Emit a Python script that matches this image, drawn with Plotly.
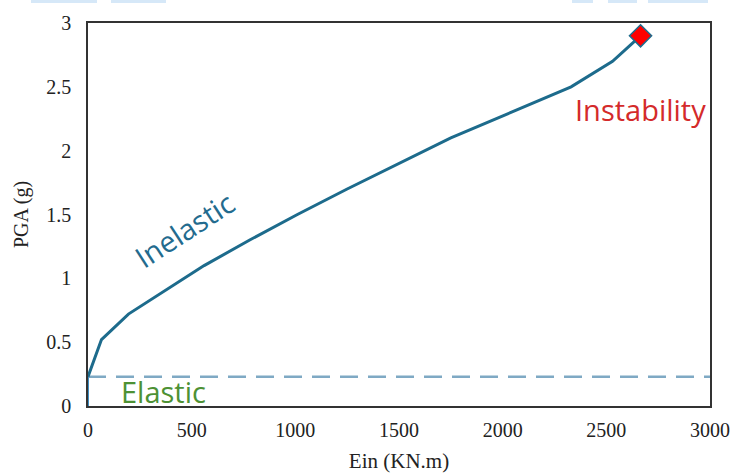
import plotly.graph_objects as go

# Data
ein = [0, 65, 195, 370, 560, 780, 1010, 1250, 1500, 1750, 2040, 2330, 2530, 2665]
pga = [0.23, 0.52, 0.72, 0.9, 1.1, 1.3, 1.5, 1.7, 1.9, 2.1, 2.3, 2.5, 2.7, 2.9]
elastic_ein = [0, 0]
elastic_pga = [0, 0.23]
limit_ein = [0, 3000]
limit_pga = [0.23, 0.23]
instab_ein = [2665]
instab_pga = [2.9]
x_ticks = [0, 500, 1000, 1500, 2000, 2500, 3000]
y_ticks = [0, 0.5, 1, 1.5, 2, 2.5, 3]
y_ticklabels = ["0", "0.5", "1", "1.5", "2", "2.5", "3"]

serif = "Liberation Serif, Times New Roman, serif"
sans = "Open Sans, Liberation Sans, sans-serif"

fig = go.Figure()
fig.add_trace(go.Scatter(x=limit_ein, y=limit_pga, mode="lines",
                         line=dict(color="#7FA9C4", width=2.5, dash="18px,10px"),
                         hoverinfo="skip", showlegend=False))
fig.add_trace(go.Scatter(x=elastic_ein, y=elastic_pga, mode="lines",
                         line=dict(color="#3F8FC4", width=2),
                         showlegend=False))
fig.add_trace(go.Scatter(x=ein, y=pga, mode="lines",
                         line=dict(color="#1D6B8C", width=3),
                         showlegend=False))
fig.add_trace(go.Scatter(x=instab_ein, y=instab_pga, mode="markers",
                         marker=dict(symbol="diamond", size=17, color="#FF0000",
                                     line=dict(color="#1D6B8C", width=1.5)),
                         showlegend=False))

fig.add_annotation(x=465, y=1.38, text="Inelastic", showarrow=False, textangle=-33,
                   font=dict(family=sans, size=29, color="#236B8E"))
fig.add_annotation(x=2665, y=2.32, text="Instability", showarrow=False,
                   font=dict(family=sans, size=29, color="#D42A2A"))
fig.add_annotation(x=362, y=0.11, text="Elastic", showarrow=False,
                   font=dict(family=sans, size=29, color="#4D9134"))

# top strip artefacts (light blue blocks)
for x0, x1 in [(31, 97), (111, 166), (572, 593), (608, 637), (648, 708)]:
    fig.add_shape(type="rect", xref="paper", yref="paper",
                  x0=(x0 - 88) / 622, x1=(x1 - 88) / 622,
                  y0=(406 - 0) / 383, y1=(406 - 3) / 383,
                  fillcolor="#D6E8F8", line=dict(width=0), layer="above")

fig.update_layout(
    width=732, height=475,
    margin=dict(l=88, r=22, t=23, b=69, autoexpand=False),
    paper_bgcolor="white", plot_bgcolor="white",
    xaxis=dict(range=[0, 3000], tickvals=x_ticks, showgrid=False, zeroline=False,
               showline=True, linecolor="#333333", linewidth=1.5, mirror=True,
               ticks="", ticklen=0, automargin=False, ticklabelstandoff=5,
               tickfont=dict(family=serif, size=20, color="#222222"),
               title=dict(text="Ein (KN.m)", font=dict(family=serif, size=21, color="#222222"),
                          standoff=14)),
    yaxis=dict(range=[0, 3], tickvals=y_ticks, ticktext=y_ticklabels, showgrid=False, zeroline=False,
               showline=True, linecolor="#333333", linewidth=1.5, mirror=True,
               ticks="", ticklen=0, automargin=False, ticklabelstandoff=11,
               tickfont=dict(family=serif, size=20, color="#222222"),
               title=dict(text="PGA (g)", font=dict(family=serif, size=20, color="#222222"),
                          standoff=12)),
)

fig.write_html("out.html")
